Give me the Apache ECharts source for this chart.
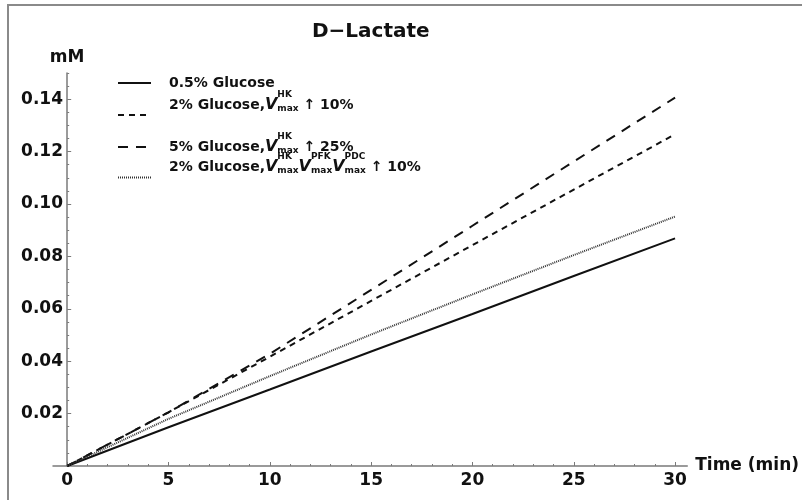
<!DOCTYPE html>
<html>
<head>
<meta charset="utf-8">
<script src="https://cdn.jsdelivr.net/npm/echarts@6/dist/echarts.min.js"></script>
<style>
html,body{margin:0;padding:0;background:#fff;}
#chart{width:802px;height:500px;}
</style>
</head>
<body>
<div id="chart"></div>
<script>
// ---- data ----
var times = [0, 5, 10, 15, 20, 25, 30];
var glucose05 = [0, 0.0148, 0.0292, 0.0437, 0.0580, 0.0725, 0.0869];
var glucose2HK = [0, 0.0205, 0.0417, 0.0630, 0.0843, 0.1055, 0.1266];
var glucose5HK = [0, 0.0205, 0.0428, 0.0672, 0.0917, 0.1162, 0.1406];
var glucose2All = [0, 0.0180, 0.0343, 0.0502, 0.0655, 0.0805, 0.0952];

var xTickLabels = [0, 5, 10, 15, 20, 25, 30];
var yTickLabels = [0.02, 0.04, 0.06, 0.08, 0.10, 0.12, 0.14];
var xMinorStep = 1;
var yMinorStep = 0.005;

var names = ['0.5% Glucose', '2% Glucose, Vmax HK +10%', '5% Glucose, Vmax HK +25%', '2% Glucose, Vmax HK PFK PDC +10%'];
var richNames = {};
richNames[names[0]] = '{t|0.5% Glucose}';
richNames[names[1]] = '{t|2% Glucose,}{v|V}{sp|HK}{sb|max}{t| \u2191 10%}';
richNames[names[2]] = '{t|5% Glucose,}{v|V}{sp|HK}{sb|max}{t| \u2191 25%}';
richNames[names[3]] = '{t|2% Glucose,}{v|V}{sp|HK}{sb|max}{v|V}{sp|PFK}{sb|max}{v|V}{sp|PDC}{sb|max}{t| \u2191 10%}';

function pairs(ys){ return times.map(function(t,i){ return [t, ys[i]]; }); }

var xMinor = [], yMinor = [];
for (var v = 0; v <= 30.001; v += xMinorStep) { if (Math.abs(v % 5) > 1e-6) xMinor.push(+v.toFixed(3)); }
for (var w = 0; w <= 0.15001; w += yMinorStep) { var r = +w.toFixed(4); if (Math.abs(r / 0.02 - Math.round(r / 0.02)) > 1e-6) yMinor.push(r); }

var FONT = 'DejaVu Sans';
var rich = {
  t: {fontFamily: FONT, fontWeight: 'bold', fontSize: 14, color: '#111', lineHeight: 30, verticalAlign: 'middle'},
  v: {fontFamily: FONT, fontWeight: 'bold', fontStyle: 'italic', fontSize: 16, color: '#111', lineHeight: 30, verticalAlign: 'middle'},
  sp: {fontFamily: FONT, fontWeight: 'bold', fontSize: 9, color: '#111', lineHeight: 7, verticalAlign: 'top', width: 0},
  sb: {fontFamily: FONT, fontWeight: 'bold', fontSize: 9, color: '#111', verticalAlign: 'middle', padding: [7, 0, 0, 0]}
};

function makeLegend(name, top, padBottom) {
  return {
    data: [name], orient: 'vertical', left: 117, top: top, padding: 0,
    itemWidth: 33, itemHeight: 14, selectedMode: false,
    itemStyle: {opacity: 0},
    formatter: function(n){ return richNames[n]; },
    textStyle: {padding: [0, 0, padBottom, 13], rich: rich}
  };
}

var lineColor = '#111';
var axisGray = '#7a7a7a';

var option = {
  animation: false,
  backgroundColor: '#fff',
  title: {
    text: 'D\u2212Lactate', left: 312, top: 22, padding: 0,
    textStyle: {fontFamily: FONT, fontWeight: 'bold', fontSize: 20, color: '#111'}
  },
  legend: [
    makeLegend(names[0], 76, 0),
    makeLegend(names[1], 90, 20),
    makeLegend(names[2], 132, 0),
    makeLegend(names[3], 152, 21)
  ],
  grid: {left: 53, right: 112, top: 73, bottom: 34},
  xAxis: [{
    type: 'value', min: -0.7, max: 30.6, gridIndex: 0,
    name: 'Time (min)', nameLocation: 'end', nameGap: 8,
    nameTextStyle: {fontFamily: FONT, fontWeight: 'bold', fontSize: 17, color: '#111', verticalAlign: 'middle'},
    axisLine: {show: true, onZero: true, lineStyle: {color: axisGray, width: 1.5}},
    axisTick: {show: true, inside: true, length: 4, customValues: xTickLabels, lineStyle: {color: axisGray}},
    axisLabel: {show: true, customValues: xTickLabels, margin: 6, formatter: function(v){ return String(Math.round(v)); }, fontFamily: FONT, fontWeight: 'bold', fontSize: 17, color: '#111'},
    splitLine: {show: false}
  }, {
    type: 'value', min: -0.7, max: 30.6, gridIndex: 0, position: 'bottom',
    axisLine: {show: false},
    axisTick: {show: true, inside: true, length: 2, customValues: xMinor, lineStyle: {color: axisGray}},
    axisLabel: {show: false},
    splitLine: {show: false}
  }],
  yAxis: [{
    type: 'value', min: 0, max: 0.15, gridIndex: 0,
    name: 'mM', nameLocation: 'end', nameGap: 7,
    nameTextStyle: {fontFamily: FONT, fontWeight: 'bold', fontSize: 17, color: '#111', align: 'center'},
    axisLine: {show: true, onZero: true, onZeroAxisIndex: 0, lineStyle: {color: axisGray, width: 1.5}},
    axisTick: {show: true, inside: true, length: 4, customValues: yTickLabels, lineStyle: {color: axisGray}},
    axisLabel: {show: true, customValues: yTickLabels, margin: -10, formatter: function(v){ return v.toFixed(2); }, fontFamily: FONT, fontWeight: 'bold', fontSize: 17, color: '#111'},
    splitLine: {show: false}
  }, {
    type: 'value', min: 0, max: 0.15, gridIndex: 0, position: 'left',
    axisLine: {show: false, onZero: true, onZeroAxisIndex: 0},
    axisTick: {show: true, inside: true, length: 2, customValues: yMinor, lineStyle: {color: axisGray}},
    axisLabel: {show: false},
    splitLine: {show: false}
  }],
  graphic: [{
    type: 'rect', silent: true, z: 100,
    shape: {x: 8, y: 5, width: 830, height: 530},
    style: {fill: 'none', stroke: '#8a8a8a', lineWidth: 2}
  }],
  series: [
    {name: names[0], type: 'line', data: pairs(glucose05), showSymbol: false, symbol: 'none',
     lineStyle: {color: lineColor, width: 2, type: 'solid'}, itemStyle: {color: lineColor}},
    {name: names[1], type: 'line', data: pairs(glucose2HK), showSymbol: false, symbol: 'none',
     lineStyle: {color: lineColor, width: 2, type: [6, 5]}, itemStyle: {color: lineColor}},
    {name: names[2], type: 'line', data: pairs(glucose5HK), showSymbol: false, symbol: 'none',
     lineStyle: {color: lineColor, width: 2, type: [10, 8]}, itemStyle: {color: lineColor}},
    {name: names[3], type: 'line', data: pairs(glucose2All), showSymbol: false, symbol: 'none',
     lineStyle: {color: '#333', width: 2, type: [1, 1]}, itemStyle: {color: '#333'}}
  ]
};

var chart = echarts.init(document.getElementById('chart'), null, {renderer: 'canvas'});
chart.setOption(option);
</script>
</body>
</html>
